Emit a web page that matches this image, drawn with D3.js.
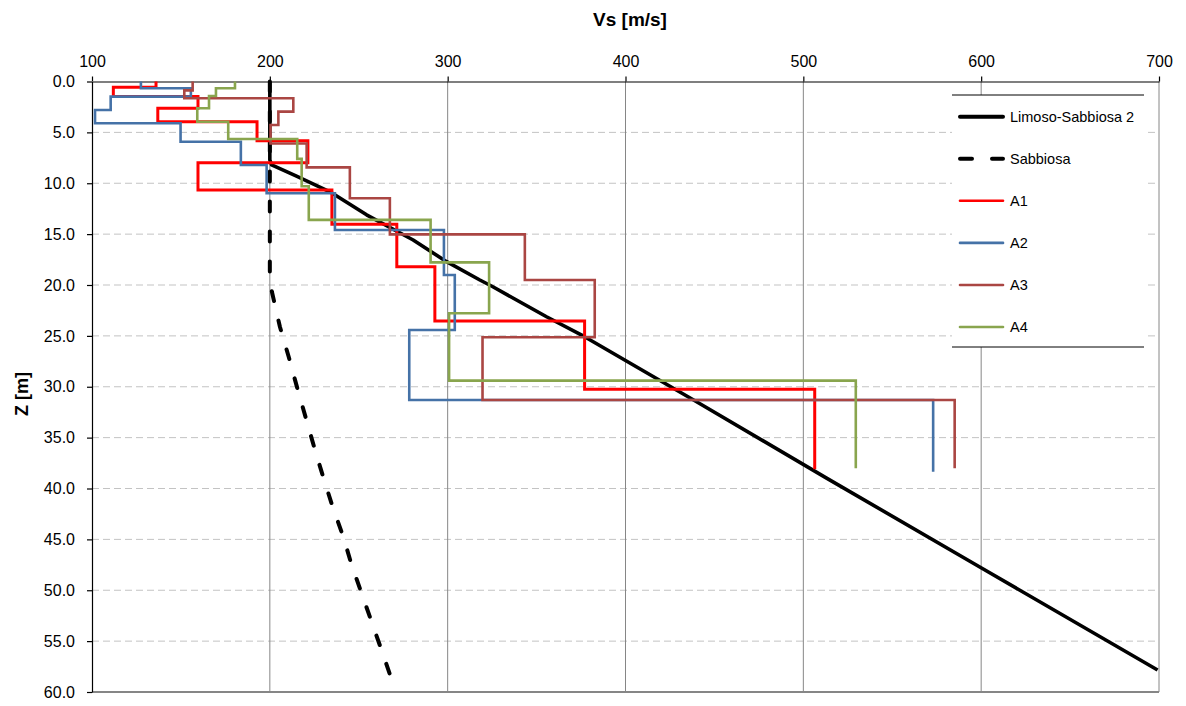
<!DOCTYPE html>
<html>
<head>
<meta charset="utf-8">
<script src="https://cdn.jsdelivr.net/npm/d3@7"></script>
<style>
  html, body { margin: 0; padding: 0; background: #fff; }
  svg { display: block; font-family: "Liberation Sans", Arial, sans-serif; }
</style>
</head>
<body>
<svg id="chart" width="1186" height="706"></svg>
<script>
// ---------- data ----------
const xTicks = [100, 200, 300, 400, 500, 600, 700];
const yTicks = [0, 5, 10, 15, 20, 25, 30, 35, 40, 45, 50, 55, 60];

// Reference curves (Vs [m/s], Z [m])
const limosoVs = [200, 200, 201, 215, 233.8, 254.4, 280.6, 299.4, 318.1, 325.4, 355.6, 377, 438.3, 513.3, 599.7, 699.2];
const limosoZ  = [0, 7.7, 8.2, 9.3, 10.84, 13.1, 15.58, 17.71, 19.51, 20.17, 23.12, 25.08, 31.3, 39.0, 47.77, 57.84];

const sabbiosaVs = [200, 200, 201.2, 205.7, 210.6, 215.2, 225.4, 230.4, 235.6, 241.3, 246.0, 251.6, 257.2, 262.8, 268.6];
const sabbiosaZ  = [0, 19.5, 20.69, 24.13, 27.05, 29.99, 36.22, 39.1, 41.95, 44.74, 47.52, 50.3, 53.09, 55.87, 58.82];

// Step profiles: layer boundaries (depth) and layer Vs
const a1Depth = [0, 0.57, 1.47, 2.63, 3.95, 5.82, 7.98, 10.66, 14.03, 18.2, 23.54, 30.25, 38.1];
const a1Vs    = [136, 112, 159.6, 137, 192.8, 221.4, 159.6, 234.9, 271.4, 292.8, 377, 506.4];

const a2Depth = [0, 0.67, 1.49, 2.80, 4.11, 5.92, 8.21, 10.99, 14.6, 19.02, 24.42, 31.3, 38.35];
const a2Vs    = [127.5, 155.6, 110.5, 101.7, 149.8, 183.7, 198.2, 236.6, 297.9, 304, 278.4, 573];

const a3Depth = [0, 0.87, 1.65, 2.96, 4.27, 6.09, 8.44, 11.48, 15.02, 19.51, 25.14, 31.3, 38.0];
const a3Vs    = [156.6, 151.9, 213.2, 204.8, 200.4, 220.7, 245, 267.5, 343.4, 382.7, 319.6, 585.1];

const a4Depth = [0, 0.67, 1.42, 2.63, 3.95, 5.65, 7.6, 10.3, 13.6, 17.78, 22.78, 29.4, 38.0];
const a4Vs    = [180.4, 169.7, 165.8, 159.2, 176.6, 215.4, 217.9, 221.9, 290.4, 323.3, 300.8, 529.5];

const seriesNames = ["Limoso-Sabbiosa 2", "Sabbiosa", "A1", "A2", "A3", "A4"];

// ---------- setup ----------
const svg = d3.select("#chart");
const W = 1186, H = 706;
svg.append("rect").attr("width", W).attr("height", H).attr("fill", "#fff");

const x = d3.scaleLinear().domain([100, 700]).range([92, 1159]);
const y = d3.scaleLinear().domain([0, 60]).range([81.5, 692]);

const line = d3.line().x(d => x(d[0])).y(d => y(d[1]));

function stepPoints(depth, vs) {
  const pts = [];
  vs.forEach((v, i) => { pts.push([v, depth[i]]); pts.push([v, depth[i + 1]]); });
  return pts;
}

// ---------- grid ----------
const grid = svg.append("g");
grid.selectAll("line.hg").data(yTicks.filter(d => d > 0 && d < 60)).enter()
  .append("line").attr("class", "hg")
  .attr("x1", x(100)).attr("x2", x(700))
  .attr("y1", d => y(d)).attr("y2", d => y(d))
  .attr("stroke", "#c3c3c3").attr("stroke-width", 1).attr("stroke-dasharray", "7,4");
grid.selectAll("line.vg").data(xTicks.filter(d => d > 100)).enter()
  .append("line").attr("class", "vg")
  .attr("x1", d => x(d)).attr("x2", d => x(d))
  .attr("y1", y(0)).attr("y2", y(60))
  .attr("stroke", "#868686").attr("stroke-width", 1);
// bottom line
grid.append("line")
  .attr("x1", x(100)).attr("x2", x(700)).attr("y1", y(60)).attr("y2", y(60))
  .attr("stroke", "#868686").attr("stroke-width", 2.2);

// ---------- axes ----------
const xAxis = svg.append("g").attr("transform", `translate(0,${y(0)})`)
  .call(d3.axisTop(x).tickValues(xTicks).tickSize(5).tickSizeOuter(0).tickPadding(10).tickFormat(d3.format("d")));
const yAxis = svg.append("g").attr("transform", `translate(${x(100)},0)`)
  .call(d3.axisLeft(y).tickValues(yTicks).tickSize(5).tickSizeOuter(0).tickPadding(12).tickFormat(d3.format(".1f")));
[xAxis, yAxis].forEach(g => {
  g.selectAll("path.domain").attr("stroke", "#000").attr("stroke-width", 1.2);
  g.selectAll(".tick line").attr("stroke", "#000").attr("stroke-width", 1.2);
  g.selectAll(".tick text").attr("fill", "#000").attr("font-size", "16px")
    .attr("font-family", "Liberation Sans, Arial, sans-serif");
});

// titles
svg.append("text").attr("x", 630).attr("y", 26).attr("text-anchor", "middle")
  .attr("font-size", "19px").attr("font-weight", "bold").text("Vs [m/s]");
svg.append("text").attr("transform", "translate(28,394) rotate(-90)").attr("text-anchor", "middle")
  .attr("font-size", "18px").attr("font-weight", "bold").text("Z [m]");

// ---------- series ----------
const plot = svg.append("g");
const limosoPts = limosoVs.map((v, i) => [v, limosoZ[i]]);
const sabbiosaPts = sabbiosaVs.map((v, i) => [v, sabbiosaZ[i]]);

plot.append("path").attr("d", line(limosoPts)).attr("fill", "none")
  .attr("stroke", "#000").attr("stroke-width", 3.6).attr("stroke-linejoin", "round");
plot.append("path").attr("d", line(sabbiosaPts)).attr("fill", "none")
  .attr("stroke", "#000").attr("stroke-width", 4).attr("stroke-dasharray", "10,20")
  .attr("stroke-linecap", "round").attr("stroke-linejoin", "round");

const steps = [
  { d: a1Depth, v: a1Vs, color: "#ff0000", w: 3 },
  { d: a2Depth, v: a2Vs, color: "#4572a7", w: 2.6 },
  { d: a3Depth, v: a3Vs, color: "#aa4643", w: 2.6 },
  { d: a4Depth, v: a4Vs, color: "#89a54e", w: 2.6 }
];
steps.forEach(s => {
  plot.append("path").attr("d", line(stepPoints(s.d, s.v))).attr("fill", "none")
    .attr("stroke", s.color).attr("stroke-width", s.w).attr("stroke-linejoin", "miter");
});

// ---------- legend ----------
const leg = svg.append("g");
leg.append("rect").attr("x", 952).attr("y", 95).attr("width", 192).attr("height", 252).attr("fill", "#fff");
leg.append("line").attr("x1", 952).attr("x2", 1144).attr("y1", 95).attr("y2", 95).attr("stroke", "#000").attr("stroke-width", 1);
leg.append("line").attr("x1", 952).attr("x2", 1144).attr("y1", 347).attr("y2", 347).attr("stroke", "#000").attr("stroke-width", 1);

const legStyles = [
  { color: "#000", w: 4, dash: null },
  { color: "#000", w: 4, dash: "12,20" },
  { color: "#ff0000", w: 2.6, dash: null },
  { color: "#4572a7", w: 2.6, dash: null },
  { color: "#aa4643", w: 2.6, dash: null },
  { color: "#89a54e", w: 2.6, dash: null }
];
const legY = d3.scalePoint().domain(seriesNames).range([116.7, 327]);
seriesNames.forEach((name, i) => {
  const st = legStyles[i];
  const ln = leg.append("line").attr("x1", 960).attr("x2", 1003)
    .attr("y1", legY(name)).attr("y2", legY(name))
    .attr("stroke", st.color).attr("stroke-width", st.w).attr("stroke-linecap", "round");
  if (st.dash) ln.attr("stroke-dasharray", st.dash);
  leg.append("text").attr("x", 1010).attr("y", legY(name)).attr("dy", "0.36em")
    .attr("font-size", "14.5px").attr("fill", "#000").text(name);
});
</script>
</body>
</html>
